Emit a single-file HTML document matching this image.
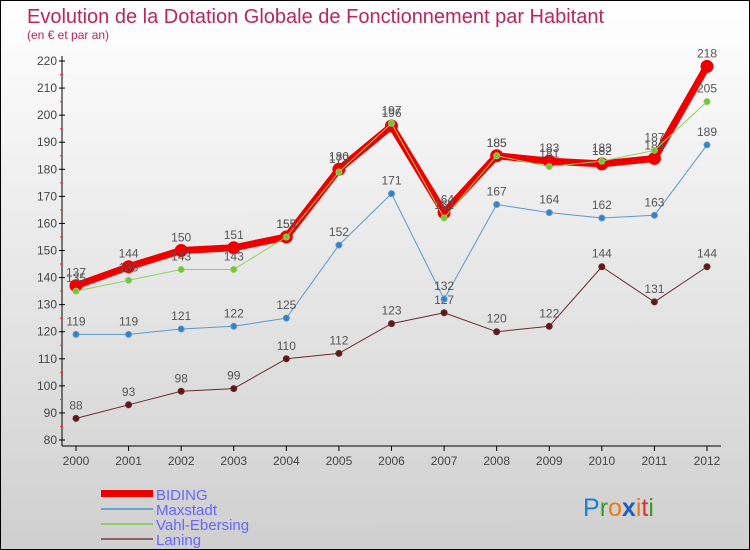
<!DOCTYPE html>
<html><head><meta charset="utf-8"><style>
body{margin:0}
#wrap{width:748px;height:548px;border:1px solid #000;background:linear-gradient(#fff,#cfcfcf);position:relative;overflow:hidden;font-family:"Liberation Sans",sans-serif}
svg text{font-family:"Liberation Sans",sans-serif}
</style></head><body>
<div id="wrap">
<svg id="c" width="748" height="548">
<text x="26" y="22" font-size="20" fill="#c0245c">Evolution de la Dotation Globale de Fonctionnement par Habitant</text>
<text x="26" y="38" font-size="12" fill="#c0245c">(en € et par an)</text>
<g id="axes"></g><g id="series"></g>
<g>
<rect x="100" y="489" width="52" height="7" fill="#e00"/>
<text x="155" y="499" font-size="15" fill="#6666ff">BIDING</text>
<line x1="100" y1="508" x2="152" y2="508" stroke="#6fa0c8" stroke-width="2"/>
<text x="155" y="514" font-size="15" fill="#6666ff">Maxstadt</text>
<line x1="100" y1="523" x2="152" y2="523" stroke="#90d070" stroke-width="2"/>
<text x="155" y="529" font-size="15" fill="#6666ff">Vahl-Ebersing</text>
<line x1="100" y1="538" x2="152" y2="538" stroke="#8a6060" stroke-width="2"/>
<text x="155" y="544" font-size="15" fill="#6666ff">Laning</text>
</g>
<g font-size="25">
<text x="582" y="515"><tspan fill="#1e7fd0">P</tspan><tspan fill="#3a9a2a">r</tspan><tspan fill="#f07a10">o</tspan><tspan fill="#1e5fc0" font-weight="bold">x</tspan><tspan fill="#f07a10">i</tspan><tspan fill="#e03030">t</tspan><tspan fill="#3a9a2a">i</tspan></text>
</g>
</svg></div>
<script>
const years=[2000,2001,2002,2003,2004,2005,2006,2007,2008,2009,2010,2011,2012];
const biding=[137,144,150,151,155,180,196,164,185,183,182,184,218];
const maxstadt=[119,119,121,122,125,152,171,132,167,164,162,163,189];
const vahl=[135,139,143,143,155,179,197,162,185,181,183,187,205];
const laning=[88,93,98,99,110,112,123,127,120,122,144,131,144];
const yTicks=[80,90,100,110,120,130,140,150,160,170,180,190,200,210,220];
const NS='http://www.w3.org/2000/svg';
const X=i=>75+i*(706-75)/12;
const Y=v=>439-(v-80)*(439-60)/140;
function mk(t,a,p){const e=document.createElementNS(NS,t);for(const k in a)e.setAttribute(k,a[k]);p.appendChild(e);return e;}
const ax=document.getElementById('axes');
let l=mk('line',{x1:61,y1:55,x2:61,y2:445,stroke:'#000'},ax);


l=mk('line',{x1:61,y1:445,x2:720,y2:445,stroke:'#000'},ax);


yTicks.forEach((v,i)=>{
  mk('line',{x1:58,x2:64,y1:Y(v),y2:Y(v),stroke:'#000'},ax);
  if(i<yTicks.length-1)mk('line',{x1:59,x2:62,y1:Y(v+5),y2:Y(v+5),stroke:'#e33'},ax);
  const t=mk('text',{x:56,y:Y(v)+4,'font-size':12,fill:'#444','text-anchor':'end'},ax);t.textContent=v;
  
  
});
years.forEach((y,i)=>{
  mk('line',{x1:X(i),x2:X(i),y1:445,y2:450,stroke:'#000'},ax);
  const t=mk('text',{x:X(i),y:464,'font-size':12,fill:'#444','text-anchor':'middle'},ax);t.textContent=y;
  
  
});
const sg=document.getElementById('series');
function draw(d,name,col,w,r,fill){
  const g=mk('g',{},sg);
  
  
  mk('polyline',{points:d.map((v,i)=>X(i)+','+Y(v)).join(' '),fill:'none',stroke:col,'stroke-width':w,'stroke-linejoin':'round'},g);
  d.forEach((v,i)=>{
    const c=mk('circle',{cx:X(i),cy:Y(v),r:r,fill:fill,stroke:col,'stroke-width':1},g);
    
    
    const t=mk('text',{x:X(i),y:Y(v)-9,'font-size':12,fill:'#555','text-anchor':'middle'},g);t.textContent=v;
  });
}
draw(laning,'laning','#6b2a2a',1,3,'#5a1a1a');
draw(maxstadt,'maxstadt','#5a9ad0',1,3,'#3a80c0');
draw(biding,'biding','#ee0000',7,6,'#ee0000');
draw(vahl,'vahl-ebersing','#90d060',1,3,'#7ac040');
</script>
</body></html>
